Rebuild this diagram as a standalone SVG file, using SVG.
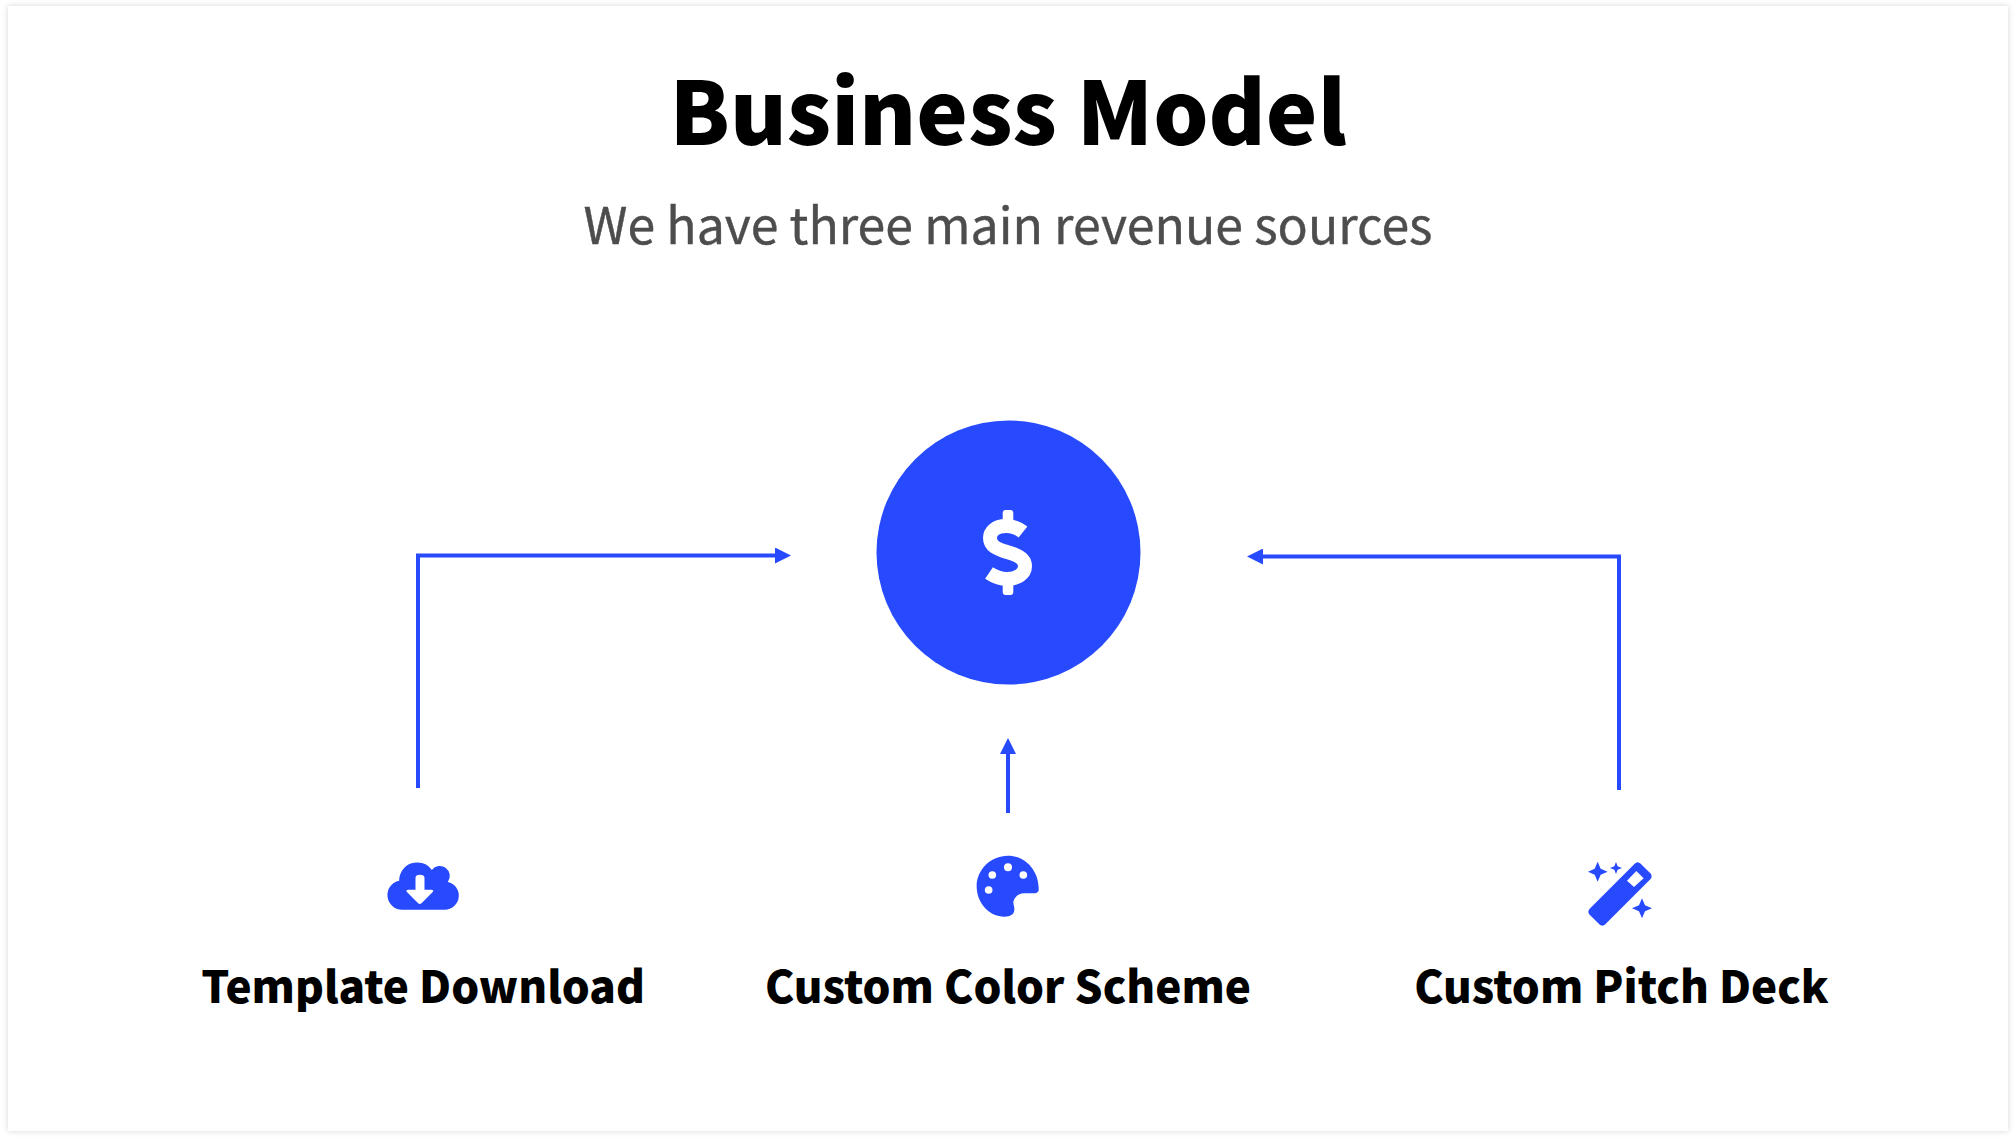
<svg xmlns="http://www.w3.org/2000/svg" width="2016" height="1141" viewBox="0 0 2016 1141">
<style>
text{font-family:"Noto Sans CJK SC","Noto Sans",sans-serif;text-anchor:middle}
.title{font-size:87px;font-weight:900;fill:#000}
.sub{font-size:50px;font-weight:400;fill:#4d4d4d;stroke:#4d4d4d;stroke-width:.4}
.lab{font-size:44px;font-weight:900;fill:#000}
.ic{fill:#284aff}
.wh{fill:#fff}
.ln{fill:none;stroke:#284aff;stroke-width:4}
</style>
<defs>
<filter id="sh" x="-2%" y="-2%" width="104%" height="104%"><feDropShadow dx="0" dy="0" stdDeviation="3" flood-color="#000" flood-opacity="0.16"/></filter>
<marker id="ah" viewBox="0 0 16 16" refX="0" refY="8" markerWidth="16" markerHeight="16" markerUnits="userSpaceOnUse" orient="auto"><path d="M0 0L16 8L0 16Z" fill="#284aff"/></marker>
</defs>
<rect width="2016" height="1141" fill="#fff"/>
<rect x="8" y="6" width="2000" height="1125" fill="#fff" filter="url(#sh)"/>
<g id="heading">
<text class="title" x="1008" y="145">Business Model</text>
<text class="sub" x="1008" y="244">We have three main revenue sources</text>
</g>
<g id="connectors">
<path class="ln" d="M418 788V555.5H775" marker-end="url(#ah)"/>
<path class="ln" d="M1619 790V556.5H1263" marker-end="url(#ah)"/>
<path class="ln" d="M1008 813V754" marker-end="url(#ah)"/>
</g>
<g id="revenue">
<circle class="ic" cx="1008.5" cy="552.5" r="132"/>
<rect class="wh" x="1002.7" y="510" width="10.6" height="18" rx="3"/>
<rect class="wh" x="1002.7" y="577" width="10.6" height="18" rx="3"/>
<path d="M1023 532C1018 528 1012 526 1006 526C995 526 990 532 990 538C990 546 997 549 1007 552C1019 555 1025 559 1025 566C1025 574 1017 579 1007 579C1001 579 995 577 989 573" fill="none" stroke="#fff" stroke-width="14" stroke-linejoin="round"/>
</g>
<g id="template-download">
<g transform="translate(360.5 838) scale(.3333)">
<path class="ic" d="M128 215A44 44 0 0 1 116 128A54 54 0 0 1 214 96A29 29 0 0 1 262 132A42 42 0 0 1 252 215Z"/>
<path class="wh" d="M165 120Q165 110 178 110Q192 110 192 120V155H212Q222 155 216 163L183 196Q178 200 173 196L140 163Q134 155 144 155H165Z"/>
</g>
<text class="lab" x="423" y="1003">Template Download</text>
</g>
<g id="custom-color-scheme">
<g transform="translate(950 839) scale(.3333)">
<path class="ic" d="M266 153C266 160 258 163 250 163H222C205 163 192 175 190 190C190 198 194 203 193 213C192 228 178 234 160 233C115 232 80 190 80 142C80 92 122 50 174 50C225 50 268 95 266 153Z"/>
<g class="wh"><circle cx="174" cy="85" r="12"/><circle cx="127" cy="108" r="11.5"/><circle cx="220" cy="108" r="11.5"/><circle cx="116" cy="153" r="11.5"/></g>
</g>
<text class="lab" x="1008" y="1003">Custom Color Scheme</text>
</g>
<g id="custom-pitch-deck">
<g transform="translate(1560 839) scale(.3333)">
<path class="ic" d="M224 74Q233 65 242 74L271 103Q279 112 271 121L136 256Q127 264 118 256L89 227Q81 218 89 209Z"/>
<path class="wh" d="M229 96L251 118L222 144L201 125Z"/>
<path class="ic" d="M113 68L122 89L143 98L122 107L113 128L104 107L84 98L104 89Z"/>
<path class="ic" d="M168 69L173 82L186 87L173 92L168 105L163 92L150 87L163 82Z"/>
<path class="ic" d="M246 178L255 199L276 208L255 217L246 238L237 217L216 208L237 199Z"/>
</g>
<text class="lab" x="1621.5" y="1003">Custom Pitch Deck</text>
</g>
</svg>
